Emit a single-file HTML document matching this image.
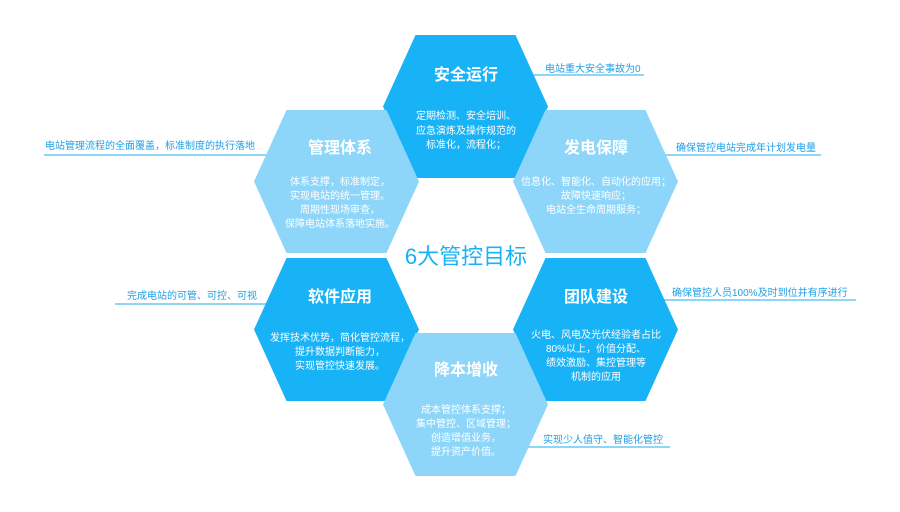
<!DOCTYPE html>
<html><head><meta charset="utf-8"><style>
html,body{margin:0;padding:0;background:#fff;width:900px;height:512px;overflow:hidden}
svg text{font-family:"Liberation Sans","Noto Sans CJK SC",sans-serif}
</style></head><body>
<svg width="900" height="512" viewBox="0 0 900 512" xmlns="http://www.w3.org/2000/svg">
<defs>
<polygon id="hx" points="-82.5,0 -50,-71.5 50,-71.5 82.5,0 50,71.5 -50,71.5"/>
</defs>
<g stroke="#8fd5f8" stroke-width="2">
<line x1="530" y1="75" x2="644" y2="75"/>
<line x1="44" y1="155" x2="270" y2="155"/>
<line x1="663" y1="155" x2="821" y2="155"/>
<line x1="115" y1="304" x2="270" y2="304"/>
<line x1="660" y1="300" x2="856" y2="300"/>
<line x1="525" y1="447" x2="670" y2="447"/>
</g>
<g fill="#1fa0e6" font-size="10">
<text x="545" y="72">电站重大安全事故为0</text>
<text x="45" y="149">电站管理流程的全面覆盖，标准制度的执行落地</text>
<text x="676" y="151">确保管控电站完成年计划发电量</text>
<text x="127" y="299">完成电站的可管、可控、可视</text>
<text x="672" y="296">确保管控人员100%及时到位并有序进行</text>
<text x="543" y="443">实现少人值守、智能化管控</text>
</g>
<use href="#hx" x="465.5" y="106.5" fill="#18b2f6"/>
<use href="#hx" x="336.5" y="181.5" fill="#8dd6fa"/>
<use href="#hx" x="595.5" y="181.5" fill="#8dd6fa"/>
<use href="#hx" x="336.5" y="329.5" fill="#18b2f6"/>
<use href="#hx" x="595.5" y="329.5" fill="#18b2f6"/>
<use href="#hx" x="465.5" y="404.5" fill="#8dd6fa"/>
<text x="466" y="264" font-size="22" fill="#18b2f6" text-anchor="middle">6大管控目标</text>
<g fill="#fff" text-anchor="middle">
<g font-size="16" font-weight="bold">
<text x="466" y="80">安全运行</text>
<text x="340" y="153">管理体系</text>
<text x="596" y="153">发电保障</text>
<text x="340" y="302">软件应用</text>
<text x="596" y="302">团队建设</text>
<text x="466" y="375">降本增收</text>
</g>
<g font-size="10">
<text x="466" y="119">定期检测、安全培训、</text>
<text x="466" y="134">应急演炼及操作规范的</text>
<text x="466" y="148">标准化，流程化；</text>
<text x="340" y="185">体系支撑，标准制定，</text>
<text x="340" y="199">实现电站的统一管理。</text>
<text x="340" y="213">周期性现场审查，</text>
<text x="340" y="227">保障电站体系落地实施。</text>
<text x="596" y="185">信息化、智能化、自动化的应用；</text>
<text x="596" y="199">故障快速响应；</text>
<text x="596" y="213">电站全生命周期服务；</text>
<text x="340" y="341">发挥技术优势，简化管控流程，</text>
<text x="340" y="355">提升数据判断能力，</text>
<text x="340" y="369">实现管控快速发展。</text>
<text x="596" y="338">火电、风电及光伏经验者占比</text>
<text x="596" y="352">80%以上，价值分配、</text>
<text x="596" y="366">绩效激励、集控管理等</text>
<text x="596" y="380">机制的应用</text>
<text x="466" y="413">成本管控体系支撑；</text>
<text x="466" y="427">集中管控、区域管理；</text>
<text x="466" y="441">创造增值业务，</text>
<text x="466" y="455">提升资产价值。</text>
</g>
</g>
</svg>
</body></html>
